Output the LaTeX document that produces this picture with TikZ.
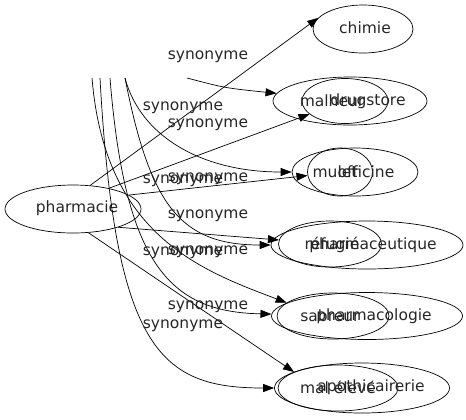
\documentclass[tikz,border=0pt]{standalone}
\usepackage{fontspec}
\setmainfont{DejaVu Sans}
\usepackage{tikz}
\usetikzlibrary{arrows.meta, positioning, shapes.geometric}

\begin{document}
\begin{tikzpicture}[x=1bp, y=-1bp, font=\fontsize{15.5bp}{18bp}\selectfont,
    oval/.style={draw, ellipse, inner sep=0pt, line width=0.7bp},
    word/.style={inner sep=0pt, text=black!85},
    rel/.style={-{Triangle[length=11bp,width=8bp]}, line width=0.7bp}]
\useasboundingbox (0,0) rectangle (466,419);

% Ellipses
\node[oval, minimum width=136bp, minimum height=48bp] (pharmacie) at (73,209) {};
\node[oval, minimum width=100bp, minimum height=48bp] (chimie) at (363,29) {};
\node[oval, minimum width=154bp, minimum height=48bp] (drugstore) at (350,101) {};
\node[oval, minimum width=86bp, minimum height=45bp] (malheur) at (345,101) {};
\node[oval, minimum width=126bp, minimum height=48bp] (officine) at (355,172) {};
\node[oval, minimum width=65bp, minimum height=48bp] (mulet) at (340,172) {};
\node[oval, minimum width=192bp, minimum height=48bp] (pharmaceutique) at (367,245) {};
\node[oval, minimum width=103bp, minimum height=46bp] (refugie) at (330,244) {};
\node[oval, minimum width=191bp, minimum height=47bp] (pharmacologie) at (367,316) {};
\node[oval, minimum width=112bp, minimum height=46bp] (sabreur) at (333,316) {};
\node[oval, minimum width=175bp, minimum height=50bp] (apothicairerie) at (362,388) {};
\node[oval, minimum width=120bp, minimum height=46bp] (maleleve) at (338,388) {};

% Words
\node[word] (tpharmacie) at (77,208) {pharmacie};
\node[word] (tchimie) at (365,28) {chimie};
\node[word] (tdrugstore) at (368,101) {drugstore};
\node[word] (tmalheur) at (332,101) {malheur};
\node[word] (tofficine) at (366,172) {officine};
\node[word] (tmulet) at (335,172) {mulet};
\node[word] (tpharmaceutique) at (373,245) {pharmaceutique};
\node[word] (trefugie) at (332,245) {réfugié};
\node[word] (tpharmacologie) at (374,316) {pharmacologie};
\node[word] (tsabreur) at (330,316) {sabreur};
\node[word] (tapothicairerie) at (371,387) {apothicairerie};
\node[word] (tmaleleve) at (338,387) {mal élevé};

% Loose tails
\coordinate (s1) at (187,78);
\coordinate (s2) at (125,78);
\coordinate (s3) at (110,78);
\coordinate (s4) at (100,78);
\coordinate (s5) at (92,78);

% Edges
\draw[rel] (pharmacie.54) -- (chimie.166);
\draw[rel] (s1) .. controls (225,88) .. (drugstore);
\draw[rel] (pharmacie.30) -- (malheur);
\draw[rel] (s2) .. controls (140,135) and (200,172) .. (officine);
\draw[rel] (pharmacie.14) -- (mulet);
\draw[rel] (s2) .. controls (150,205) and (180,245) .. (pharmaceutique);
\draw[rel] (pharmacie.-22) -- (refugie);
\draw[rel] (s5) .. controls (105,235) and (200,270) .. (sabreur.164);
\draw[rel] (s3) .. controls (125,265) and (170,312) .. (pharmacologie);
\draw[rel] (pharmacie.-57) -- (maleleve.160);
\draw[rel] (s4) .. controls (115,350) and (160,388) .. (apothicairerie);

% Edge labels
\foreach \x/\y [count=\i] in {208/57, 183/108, 208/125, 183/181, 208/179,
    208/216, 183/253, 208/252, 208/307, 183/326}
  \node[word] (syn\i) at (\x,\y) {synonyme};
\end{tikzpicture}
\end{document}
